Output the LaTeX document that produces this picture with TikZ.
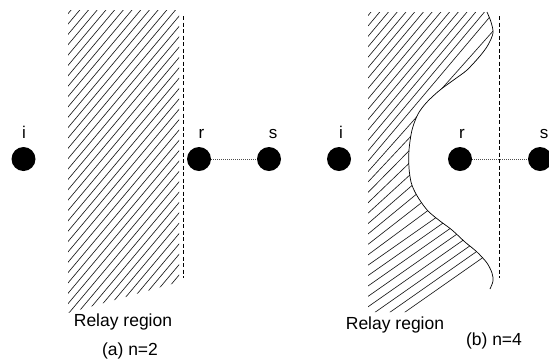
\documentclass[tikz,border=0pt]{standalone}
\usepackage{fontspec}
\setmainfont{Liberation Sans}
\begin{document}
\begin{tikzpicture}[x=1pt,y=-1pt,
  dot/.style={circle,fill=black,inner sep=0pt,minimum size=24pt},
  lbl/.style={font=\fontsize{17}{17}\selectfont,anchor=base,inner sep=0pt},
  captxt/.style={font=\fontsize{17.5}{18}\selectfont,anchor=base,inner sep=0pt},
  hatch/.style={line width=0.65pt,black!90},
  divider/.style={dash pattern=on 4pt off 2.5pt,line width=0.7pt},
  link/.style={dash pattern=on 1pt off 1pt,line width=0.8pt,black!70},
  rim/.style={line width=0.7pt}]
\useasboundingbox (0,0) rectangle (549,360);

% ---------- (a) n=2 ----------
\begin{scope}
  \clip (68,10) -- (179,10) -- (179,282) -- (68,313) -- cycle;
  \foreach \c in {-300,-291.3,...,200} \draw[hatch] (\c,400) -- ++(336,-400);
\end{scope}
\coordinate (da1) at (183,16);
\coordinate (db1) at (183,278);
\draw[divider] (da1) -- (db1);

\node[dot] (i1) at (23.5,159) {};
\node[dot] (r1) at (199,159) {};
\node[dot] (s1) at (269,159) {};
\draw[link] (r1) -- (s1);
\node[lbl] (li1) at (24,138.5) {i};
\node[lbl] (lr1) at (201.5,138.5) {r};
\node[lbl] (ls1) at (273,138.5) {s};
\node[captxt] (rr1) at (123,326) {Relay region};
\node[captxt] (ca) at (130,355) {(a) n=2};

% ---------- (b) n=4 ----------
\begin{scope}
  \clip (368,12) -- (487,12) -- plot[smooth] coordinates {(487,12) (491,22) (493,33) (488,45) (480,56) (467,70) (455,79) (440,90) (427,102) (418,114) (412,130) (409,150) (409,168) (411,182) (414,190) (419,199) (428,211) (440,221) (452,230) (465,242) (477,252) (487,263) (492,273) (493,281) (490,289)} -- (452,312) -- (368,312) -- cycle;
  \foreach \y in {-130,-119.6,...,345} {
    \pgfmathsetmacro\ang{\y<160 ? 50 : (\y>265 ? 35 : 50-15*(\y-160)/105)}
    \draw[hatch] (368,\y) -- ++(-\ang:260);
  }
\end{scope}
\draw[rim] plot[smooth] coordinates {(487,12) (491,22) (493,33) (488,45) (480,56) (467,70) (455,79) (440,90) (427,102) (418,114) (412,130) (409,150) (409,168) (411,182) (414,190) (419,199) (428,211) (440,221) (452,230) (465,242) (477,252) (487,263) (492,273) (493,281) (490,289)};
\coordinate (da2) at (499,16);
\coordinate (db2) at (499,278);
\draw[divider] (da2) -- (db2);

\node[dot] (i2) at (339,159) {};
\node[dot] (r2) at (460,159) {};
\node[dot] (s2) at (540,159) {};
\draw[link] (r2) -- (s2);
\node[lbl] (li2) at (341,138.5) {i};
\node[lbl] (lr2) at (462,138.5) {r};
\node[lbl] (ls2) at (544,138.5) {s};
\node[captxt] (rr2) at (395,329) {Relay region};
\node[captxt] (cb) at (494,345) {(b) n=4};
\end{tikzpicture}
\end{document}
